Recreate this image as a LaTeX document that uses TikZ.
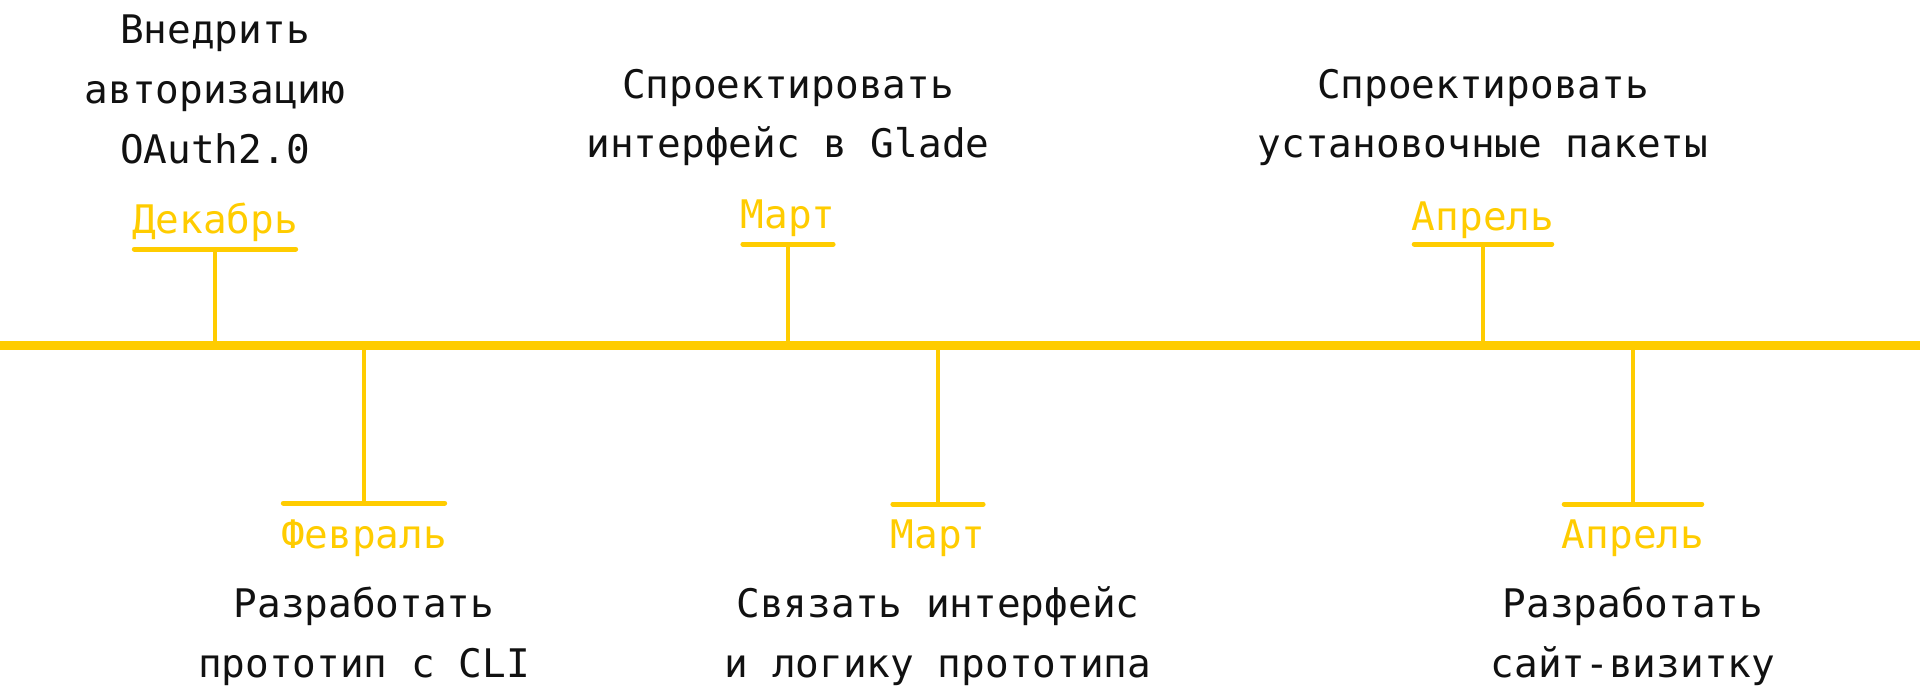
\documentclass[tikz,border=0pt]{standalone}
\usepackage{fontspec}
\usepackage{xcolor}
\usetikzlibrary{positioning}
\newfontfamily\tlfont{DejaVu Sans Mono}
\definecolor{tlyellow}{HTML}{FFCC00}
\definecolor{tlink}{HTML}{111111}

\begin{document}
\begin{tikzpicture}[
    x=0.1mm, y=-0.1mm,
    font=\tlfont\fontsize{11.2pt}{17.07pt}\selectfont,
    axis/.style = {draw=tlyellow, line width=0.9mm},
    stem/.style = {draw=tlyellow, line width=0.4mm},
    bar/.style = {draw=tlyellow, line width=0.5mm, line cap=round, shorten <=0.3mm, shorten >=0.3mm},
    month/.style = {text=tlyellow, inner sep=0pt, anchor=base},
    task/.style = {text=tlink, inner sep=0pt, align=center, anchor=base}
]
    \useasboundingbox (0,0) rectangle (1920,695);

    % axis
    \coordinate (start) at (0,345);
    \coordinate (end) at (1920,345);

    % top events
    \coordinate (a1) at (215,345);
    \coordinate (b1) at (215,249);
    \node[month] (m1) at (215,233) {Декабрь};
    \node[task] (e1) at (215,163) {Внедрить\\авторизацию\\OAuth2.0};

    \coordinate (a3) at (788,345);
    \coordinate (b3) at (788,244);
    \node[month] (m3) at (788,228) {Март};
    \node[task] (e3) at (788,158) {Спроектировать\\интерфейс в Glade};

    \coordinate (a5) at (1483,345);
    \coordinate (b5) at (1483,244);
    \node[month] (m5) at (1483,230) {Апрель};
    \node[task] (e5) at (1483,158) {Спроектировать\\установочные пакеты};

    % bottom events
    \coordinate (a2) at (364,345);
    \coordinate (b2) at (364,503);
    \node[month] (m2) at (364,548) {Февраль};
    \node[task] (e2) at (364,677) {Разработать\\прототип с CLI};

    \coordinate (a4) at (938,345);
    \coordinate (b4) at (938,504);
    \node[month] (m4) at (938,548) {Март};
    \node[task] (e4) at (938,677) {Связать интерфейс\\и логику прототипа};

    \coordinate (a6) at (1633,345);
    \coordinate (b6) at (1633,504);
    \node[month] (m6) at (1633,548) {Апрель};
    \node[task] (e6) at (1633,677) {Разработать\\сайт-визитку};

    \foreach \i in {1,...,6} {
        \draw[stem] (a\i) -- (b\i);
        \draw[bar] (b\i -| m\i.west) -- (b\i -| m\i.east);
    }
    \draw[axis] (start) -- (end);
\end{tikzpicture}
\end{document}
